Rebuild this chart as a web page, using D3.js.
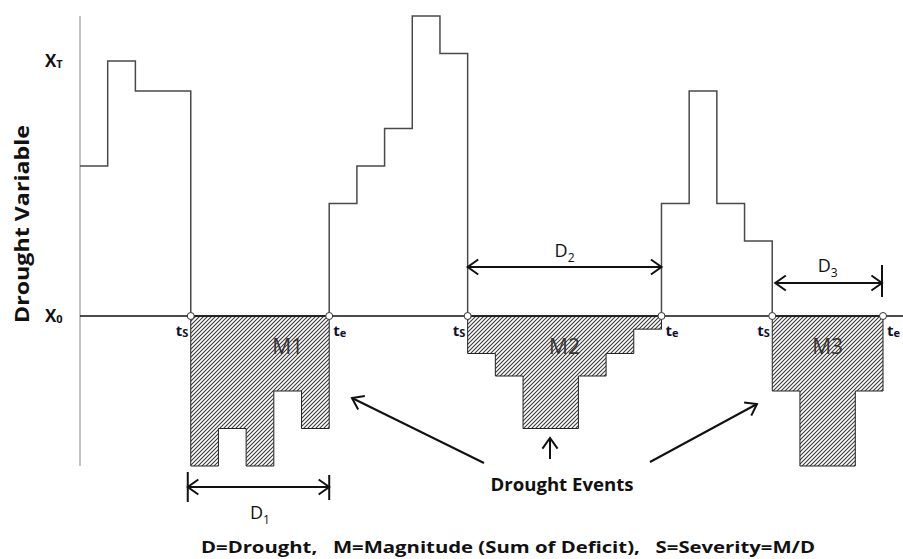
<!DOCTYPE html>
<html lang="en">
<head>
  <meta charset="UTF-8">
  <title>Drought events</title>
  <script src="https://d3js.org/d3.v7.min.js"></script>
  <style>
    body { margin: 0; background: #fff; }
    svg { display: block; }
    .lbl { font-family: "Open Sans", sans-serif; fill: #111; }
  </style>
</head>
<body>
  <svg width="903" height="559"></svg>

  <script>
    // drought variable per time step (X0 = 0)
    const values = [4, 6.8, 6, 6, -4, -3, -4, -2, -3, 3, 4, 5, 8, 7,
                    -1, -1.6, -3, -3, -1.6, -1, -0.35, 3, 6, 3, 2, -2, -4, -4, -2];
    const eventStart = [4, 14, 25];
    const eventEnd = [9, 21, 29];
    const magLabels = ["M1", "M2", "M3"];
    const durLabels = ["1", "2", "3"];
    const thresholds = [{name: "X", sub: "T", v: 6.8}, {name: "X", sub: "0", v: 0}];

    const svg = d3.select("svg");
    const x = d3.scaleLinear().domain([0, values.length]).range([80, 883]);
    const y = d3.scaleLinear().domain([-4, 8]).range([466, 16]);

    const defs = svg.append("defs");
    const pat = defs.append("pattern")
      .attr("id", "hatch").attr("patternUnits", "userSpaceOnUse")
      .attr("width", 4).attr("height", 4);
    pat.append("rect").attr("width", 4).attr("height", 4).attr("fill", "#fff");
    pat.append("path").attr("d", "M-1,1 l2,-2 M0,4 l4,-4 M3,5 l2,-2")
      .attr("stroke", "#3a3a3a").attr("stroke-width", 1.1);

    // y axis line
    svg.append("line")
      .attr("x1", x(0)).attr("x2", x(0))
      .attr("y1", y(8)).attr("y2", y(-4))
      .attr("stroke", "#9a9a9a").attr("stroke-width", 1.2);

    // deficit areas
    eventStart.forEach((s, k) => {
      const e = eventEnd[k];
      const pts = d3.range(s, e).map(i => [i, values[i]]);
      pts.push([e, values[e - 1]]);
      const area = d3.area().curve(d3.curveStepAfter)
        .x(d => x(d[0])).y0(y(0)).y1(d => y(d[1]));
      svg.append("path").attr("d", area(pts))
        .attr("fill", "url(#hatch)").attr("stroke", "#222").attr("stroke-width", 1);
    });

    // upper step line
    const up = values.map((v, i) => [i, Math.max(v, 0)]);
    up.push([values.length, Math.max(values[values.length - 1], 0)]);
    const line = d3.line().curve(d3.curveStepAfter).x(d => x(d[0])).y(d => y(d[1]));
    svg.append("path").attr("d", line(up))
      .attr("fill", "none").attr("stroke", "#4a4a4a").attr("stroke-width", 1.5);

    // baseline X0
    svg.append("line")
      .attr("x1", x(0)).attr("x2", 903)
      .attr("y1", y(0)).attr("y2", y(0))
      .attr("stroke", "#111").attr("stroke-width", 1.3);

    // threshold labels
    thresholds.forEach(t => {
      const tx = svg.append("text").attr("class", "lbl")
        .attr("x", 45).attr("y", y(t.v) + 6)
        .style("font-weight", "bold").style("font-size", "17px");
      tx.append("tspan").text(t.name);
      tx.append("tspan").attr("dy", 1).style("font-size", "11px").text(t.sub);
    });

    svg.append("text").attr("class", "lbl")
      .attr("transform", "translate(29,224) rotate(-90)")
      .attr("text-anchor", "middle")
      .attr("textLength", 198).attr("lengthAdjust", "spacingAndGlyphs")
      .style("font-weight", "bold").style("font-size", "19px")
      .text("Drought Variable");

    // ts / te markers
    eventStart.forEach((s, k) => {
      const e = eventEnd[k];
      [[s, "S", -15], [e, "e", 4]].forEach(([i, sub, dx]) => {
        svg.append("circle").attr("cx", x(i)).attr("cy", y(0)).attr("r", 3.5)
          .attr("fill", "#fff").attr("stroke", "#333").attr("stroke-width", 1);
        const tx = svg.append("text").attr("class", "lbl")
          .attr("x", x(i) + dx).attr("y", y(0) + 20)
          .style("font-weight", "bold").style("font-size", "15px");
        tx.append("tspan").style("fill", "#101030").text("t");
        tx.append("tspan").attr("dy", 1).style("font-size", "11px").style("fill", "#101030").text(sub);
      });
      svg.append("text").attr("class", "lbl")
        .attr("x", x(k === 0 ? e - 1.5 : (s + e) / 2)).attr("y", y(0) + 38)
        .attr("text-anchor", "middle")
        .style("font-size", "21px").style("fill", "#333")
        .text(magLabels[k]);
    });

    // open chevron arrow head
    function head(px, py, ang) {
      const L = 13, a = 0.62;
      const p = d3.path();
      p.moveTo(px + L * Math.cos(ang + a), py + L * Math.sin(ang + a));
      p.lineTo(px, py);
      p.lineTo(px + L * Math.cos(ang - a), py + L * Math.sin(ang - a));
      svg.append("path").attr("d", p.toString())
        .attr("fill", "none").attr("stroke", "#111").attr("stroke-width", 2);
    }
    function arrow(x1, y1, x2, y2, both) {
      svg.append("line").attr("x1", x1).attr("y1", y1).attr("x2", x2).attr("y2", y2)
        .attr("stroke", "#111").attr("stroke-width", 2);
      const ang = Math.atan2(y1 - y2, x1 - x2);
      head(x2, y2, ang);
      if (both) head(x1, y1, ang + Math.PI);
    }
    function bar(bx, y1, y2) {
      svg.append("line").attr("x1", bx).attr("x2", bx).attr("y1", y1).attr("y2", y2)
        .attr("stroke", "#111").attr("stroke-width", 2);
    }
    function durLabel(cx, by, n) {
      const tx = svg.append("text").attr("class", "lbl")
        .attr("x", cx).attr("y", by).attr("text-anchor", "middle")
        .style("font-size", "18px");
      tx.append("tspan").text("D");
      tx.append("tspan").attr("dy", 5).style("font-size", "12px").text(n);
    }

    // D1
    const d1y = 487;
    arrow(x(eventStart[0]) - 3, d1y, x(eventEnd[0]), d1y, true);
    bar(x(eventStart[0]) - 3, 472, 502);
    bar(x(eventEnd[0]), 475, 500);
    durLabel((x(eventStart[0]) + x(eventEnd[0])) / 2, 519, durLabels[0]);
    // D2
    const d2y = 267;
    arrow(x(eventStart[1]), d2y, x(eventEnd[1]), d2y, true);
    durLabel((x(eventStart[1]) + x(eventEnd[1])) / 2, 257, durLabels[1]);
    // D3
    const d3y = 283;
    arrow(x(eventStart[2]) + 3, d3y, x(eventEnd[2]) - 1, d3y, true);
    bar(x(eventEnd[2]) - 1, 265, 297);
    durLabel((x(eventStart[2]) + x(eventEnd[2])) / 2, 272, durLabels[2]);

    // drought events pointers
    arrow(484, 463, 352, 398, false);
    arrow(550, 459, 550, 438, false);
    arrow(650, 462, 757, 404, false);

    svg.append("text").attr("class", "lbl")
      .attr("x", 562).attr("y", 491).attr("text-anchor", "middle")
      .attr("textLength", 143).attr("lengthAdjust", "spacingAndGlyphs")
      .style("font-weight", "bold").style("font-size", "18px")
      .text("Drought Events");

    svg.append("text").attr("class", "lbl")
      .attr("x", 508).attr("y", 553).attr("text-anchor", "middle")
      .attr("textLength", 614).attr("lengthAdjust", "spacingAndGlyphs")
      .style("font-weight", "bold").style("font-size", "16px")
      .attr("xml:space", "preserve")
      .text("D=Drought,   M=Magnitude (Sum of Deficit),   S=Severity=M/D");
  </script>
</body>
</html>
